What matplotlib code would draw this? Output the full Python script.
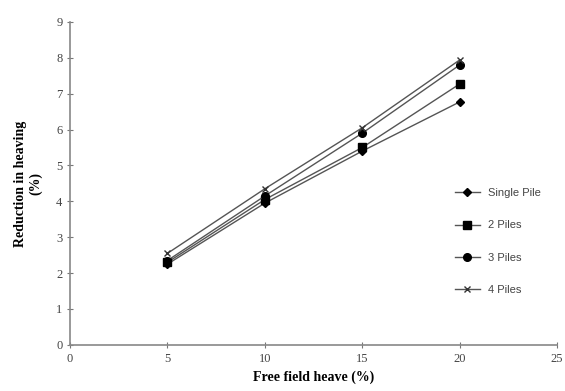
import matplotlib
matplotlib.use("Agg")
import matplotlib.pyplot as plt

# free field heave (%)
ffh = [5, 10, 15, 20]
single_pile = [2.25, 3.95, 5.4, 6.77]
piles_2 = [2.3, 4.05, 5.5, 7.27]
piles_3 = [2.35, 4.15, 5.9, 7.8]
piles_4 = [2.55, 4.35, 6.05, 7.94]
xticks = [0, 5, 10, 15, 20, 25]
yticks = list(range(10))

plt.rcParams['font.family'] = 'Liberation Serif'

fig = plt.figure(figsize=(5.65, 3.91), dpi=100)
ax = fig.add_axes([0.124, 0.118, 0.862, 0.826])

lc = '#555555'
ax.plot(ffh, single_pile, color=lc, lw=1.0, marker='D', ms=4, mfc='black', mec='black', label='Single Pile')
ax.plot(ffh, piles_2, color=lc, lw=1.0, marker='s', ms=5.5, mfc='black', mec='black', label='2 Piles')
ax.plot(ffh, piles_3, color=lc, lw=1.0, marker='o', ms=5.5, mfc='black', mec='black', label='3 Piles')
ax.plot(ffh, piles_4, color=lc, lw=1.0, marker='x', ms=5, mfc='black', mec='#333333', label='4 Piles')

ax.set_xlim(0, 25)
ax.set_ylim(0, 9)
ax.set_xticks(xticks)
ax.set_yticks(yticks)
ax.tick_params(direction='inout', length=4, width=0.8, color='#777777', labelsize=9, labelcolor='#444444')
for s in ['top', 'right']:
    ax.spines[s].set_visible(False)
for s in ['left', 'bottom']:
    ax.spines[s].set_color('#888888')
    ax.spines[s].set_linewidth(1.2)

ax.set_xlabel('Free field heave (%)', fontsize=10, fontweight='bold', labelpad=4)
ax.set_ylabel('Reduction in heaving\n(%)', fontsize=10, fontweight='bold', labelpad=10)

leg = ax.legend(loc='center left', bbox_to_anchor=(0.77, 0.32), frameon=False,
                labelspacing=2.0, handlelength=2.2, prop={'family': 'Liberation Sans', 'size': 8})
for t in leg.get_texts():
    t.set_color('#444444')

fig.savefig('out.png', dpi=100)
